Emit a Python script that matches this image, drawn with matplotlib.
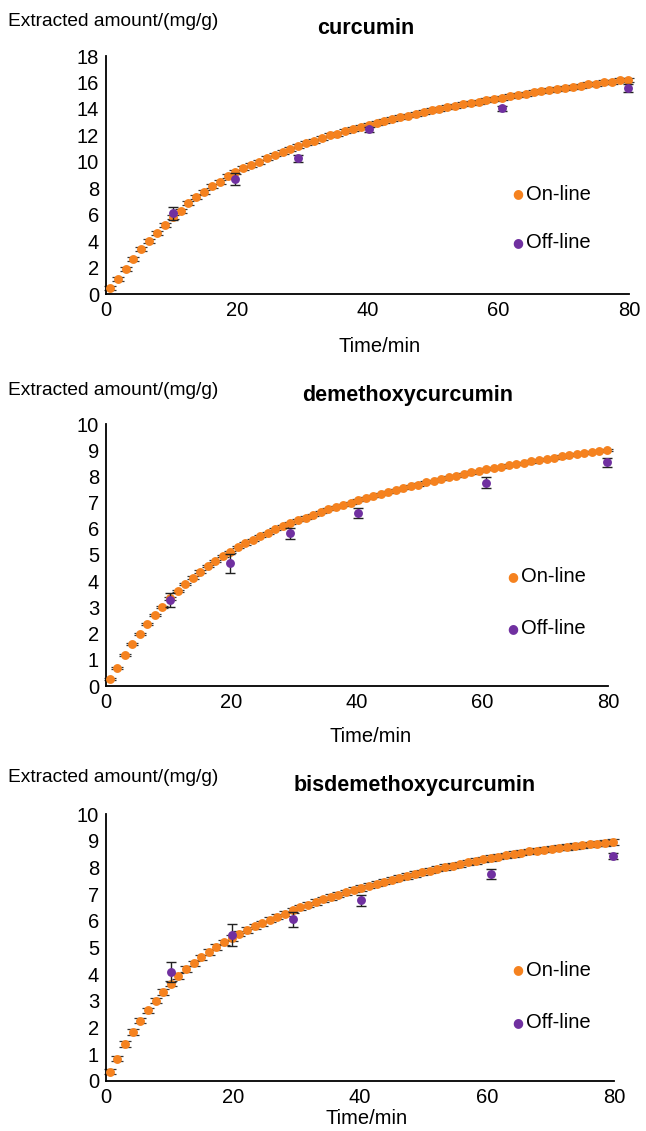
import matplotlib
matplotlib.use('Agg')
import matplotlib.pyplot as plt

plt.rcParams['font.family'] = ['Liberation Sans', 'DejaVu Sans']

# 在线采样时间 (min)
t_online = [0.6, 1.8, 3.0, 4.2, 5.4, 6.6, 7.8, 9.0, 10.2, 11.4, 12.6, 13.8, 15.0, 16.2,
            17.4, 18.6, 19.8, 21.0, 22.2, 23.4, 24.6, 25.8, 27.0, 28.2, 29.4, 30.6,
            31.8, 33.0, 34.2, 35.4, 36.6, 37.8, 39.0, 40.2, 41.4, 42.6, 43.8, 45.0,
            46.2, 47.4, 48.6, 49.8, 51.0, 52.2, 53.4, 54.6, 55.8, 57.0, 58.2, 59.4,
            60.6, 61.8, 63.0, 64.2, 65.4, 66.6, 67.8, 69.0, 70.2, 71.4, 72.6, 73.8,
            75.0, 76.2, 77.4, 78.6, 79.8]
# 离线采样时间 (min)
t_offline = [10.2, 19.8, 29.4, 40.2, 60.6, 79.8]

# curcumin
cur_online = [0.45, 1.13, 1.88, 2.63, 3.38, 4.0, 4.64, 5.19, 5.8, 6.3,
              6.9, 7.3, 7.75, 8.15, 8.5, 8.9, 9.2, 9.5, 9.75, 10.0,
              10.3, 10.55, 10.75, 11.0, 11.2, 11.4, 11.6, 11.8, 12.0, 12.1,
              12.3, 12.5, 12.6, 12.8, 12.95, 13.1, 13.25, 13.4, 13.5, 13.65,
              13.75, 13.9, 14.0, 14.15, 14.25, 14.35, 14.45, 14.55, 14.65, 14.75,
              14.85, 14.95, 15.05, 15.15, 15.25, 15.35, 15.4, 15.5, 15.6, 15.65,
              15.75, 15.85, 15.9, 16.0, 16.05, 16.15, 16.2]
cur_online_err = 0.15
cur_offline = [6.1, 8.7, 10.25, 12.45, 14.05, 15.55]
cur_offline_err = [0.5, 0.45, 0.25, 0.2, 0.2, 0.3]

# demethoxycurcumin
dmc_online = [0.28, 0.7, 1.17, 1.59, 2.0, 2.36, 2.7, 3.03, 3.34, 3.62,
              3.9, 4.14, 4.37, 4.57, 4.78, 4.96, 5.13, 5.29, 5.44, 5.58,
              5.72, 5.85, 5.99, 6.1, 6.22, 6.33, 6.43, 6.54, 6.64, 6.74,
              6.83, 6.92, 7.0, 7.1, 7.17, 7.25, 7.34, 7.41, 7.49, 7.55,
              7.63, 7.69, 7.77, 7.83, 7.9, 7.96, 8.02, 8.09, 8.15, 8.2,
              8.27, 8.32, 8.37, 8.42, 8.47, 8.52, 8.57, 8.62, 8.66, 8.71,
              8.76, 8.8, 8.85, 8.89, 8.93, 8.97, 9.0]
dmc_online_err = 0.04
dmc_offline = [3.27, 4.68, 5.83, 6.6, 7.76, 8.54]
dmc_offline_err = [0.27, 0.37, 0.21, 0.18, 0.22, 0.18]

# bisdemethoxycurcumin
bdmc_online = [0.35, 0.84, 1.39, 1.84, 2.26, 2.65, 3.01, 3.33, 3.65, 3.93,
               4.19, 4.41, 4.63, 4.83, 5.02, 5.19, 5.35, 5.52, 5.65, 5.79,
               5.91, 6.04, 6.16, 6.27, 6.39, 6.5, 6.6, 6.7, 6.8, 6.89,
               6.98, 7.07, 7.16, 7.23, 7.32, 7.39, 7.47, 7.54, 7.61, 7.68,
               7.75, 7.81, 7.88, 7.95, 8.01, 8.06, 8.12, 8.19, 8.24, 8.3,
               8.35, 8.4, 8.45, 8.5, 8.55, 8.6, 8.63, 8.67, 8.7, 8.74,
               8.77, 8.8, 8.83, 8.86, 8.89, 8.92, 8.95]
bdmc_online_err = 0.1
bdmc_offline = [4.07, 5.47, 6.06, 6.77, 7.76, 8.42]
bdmc_offline_err = [0.37, 0.4, 0.28, 0.2, 0.19, 0.12]

titles = ['curcumin', 'demethoxycurcumin', 'bisdemethoxycurcumin']
y_max = [18, 10, 10]
y_step = [2, 1, 1]

W, H = 646, 1131
orange = '#F5821F'
purple = '#7030A0'

fig = plt.figure(figsize=(W / 100, H / 100), dpi=100)

# 各子图位置 (像素): 左, 右, 上, 下
boxes = [(106, 629, 56, 294), (106, 608, 424, 686), (106, 614, 814, 1081)]
ylab_y = [22, 391, 777]
title_xy = [(366, 29), (408, 395), (415, 785)]
xlab_xy = [(380, 346), (371, 737), (367, 1119)]
leg_y = [(194, 243), (577, 629), (970, 1023)]
leg_x = [518, 513, 518]

data = [(cur_online, cur_online_err, cur_offline, cur_offline_err),
        (dmc_online, dmc_online_err, dmc_offline, dmc_offline_err),
        (bdmc_online, bdmc_online_err, bdmc_offline, bdmc_offline_err)]

for i in range(3):
    l, r, t, b = boxes[i]
    ax = fig.add_axes([l / W, 1 - b / H, (r - l) / W, (b - t) / H])
    on, on_err, off, off_err = data[i]

    # 在线数据 (误差线在点的下面)
    ax.errorbar(t_online, on, yerr=on_err, fmt='none', ecolor='#333333',
                elinewidth=0.8, capsize=4.5, capthick=0.9, zorder=2, clip_on=False)
    ax.plot(t_online, on, 'o', color=orange, ms=6.4, mec='none', zorder=3,
            clip_on=False)
    # 离线数据
    ax.errorbar(t_offline, off, yerr=off_err, fmt='none', ecolor='#222222',
                elinewidth=1.0, capsize=3.5, capthick=1.0, zorder=5, clip_on=False)
    ax.plot(t_offline, off, 'o', color=purple, ms=6.4, mec='none', zorder=6,
            clip_on=False)

    ax.set_xlim(0, 80)
    ax.set_ylim(0, y_max[i])
    ax.set_xticks([0, 20, 40, 60, 80])
    ax.set_yticks(range(0, y_max[i] + 1, y_step[i]))
    for s in ['top', 'right']:
        ax.spines[s].set_visible(False)
    for s in ['left', 'bottom']:
        ax.spines[s].set_linewidth(1.3)
    ax.tick_params(length=0, labelsize=14.5, pad=5)

    # 图例
    (y1, y2) = leg_y[i]
    for y_, lab, c in [(y1, 'On-line', orange), (y2, 'Off-line', purple)]:
        fig.text(leg_x[i] / W, 1 - y_ / H, '\u25CF', color=c, fontsize=9,
                 ha='center', va='center', family=['DejaVu Sans'])
        fig.text((leg_x[i] + 8) / W, 1 - y_ / H, lab, fontsize=14.5,
                 ha='left', va='center')

    fig.text(8 / W, 1 - ylab_y[i] / H, 'Extracted amount/(mg/g)', fontsize=13.8,
             ha='left', va='center')
    fig.text(title_xy[i][0] / W, 1 - title_xy[i][1] / H, titles[i], fontsize=15.5,
             fontweight='bold', ha='center', va='center')
    fig.text(xlab_xy[i][0] / W, 1 - xlab_xy[i][1] / H, 'Time/min', fontsize=14.5,
             ha='center', va='center')

fig.savefig('out.png', dpi=100)
